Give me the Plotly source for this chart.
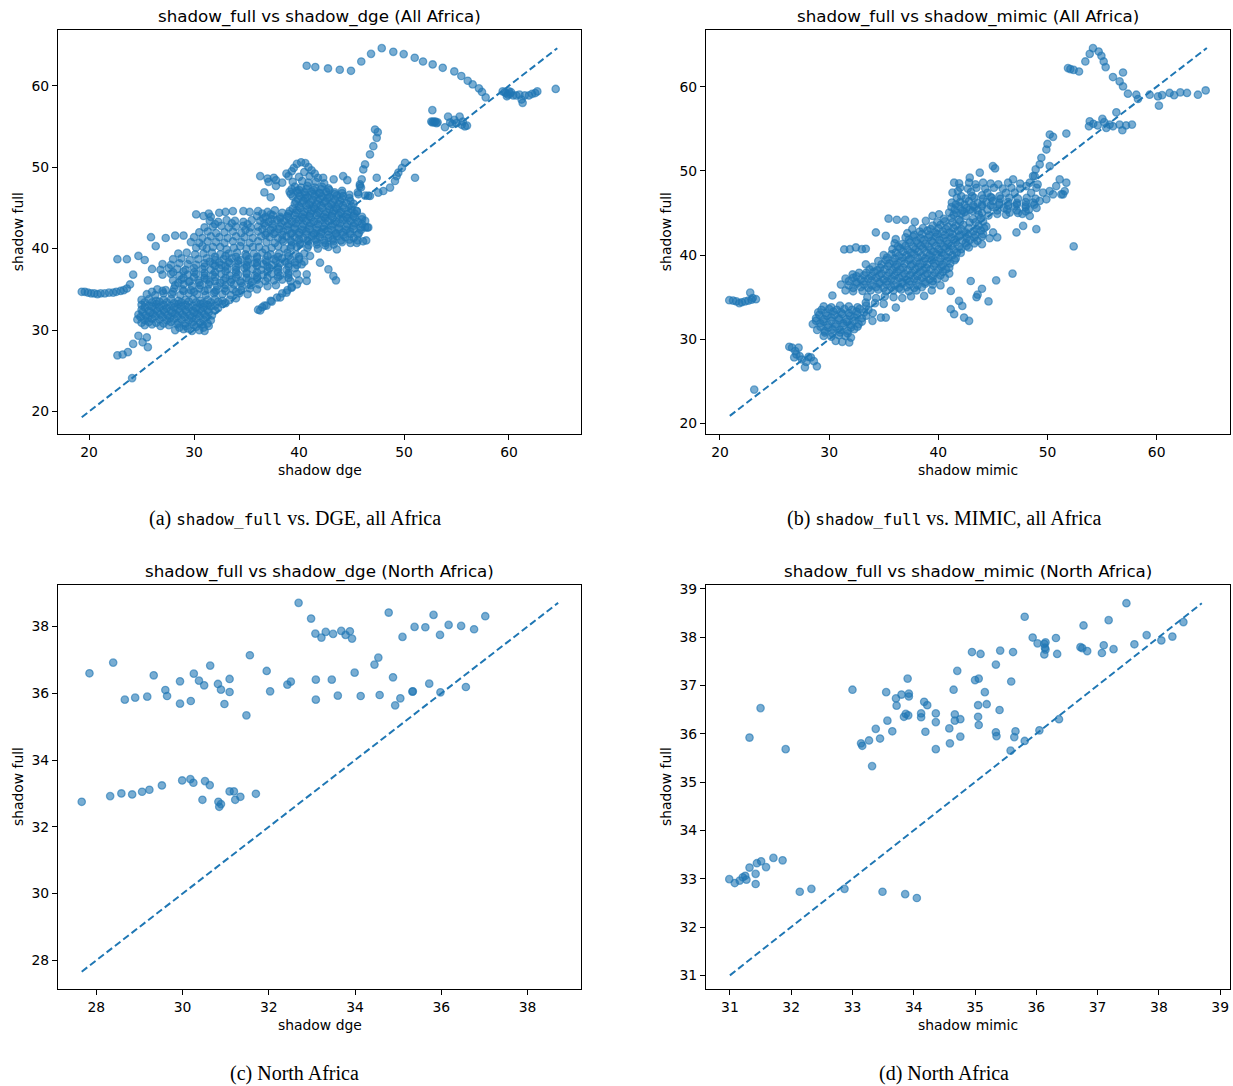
import plotly.graph_objects as go

W, H = 1233, 1086
BLUE = '#1f77b4'
FILL = 'rgba(31,119,180,0.6)'

# ---------------- (a) shadow_full vs shadow_dge, all Africa ----------------
a_arc = [(40.73,62.45),(41.55,62.29),(42.76,62.12),(43.88,61.96),(44.95,61.83),(45.93,62.97),
         (46.86,63.91),(47.88,64.61),(48.98,64.16),(49.97,63.88),(51.02,63.43),(51.81,62.97),
         (52.73,62.61),(53.69,62.2),(54.79,61.75),(55.46,61.19),(56.07,60.61),(56.54,60.16),
         (57.14,59.67),(57.43,59.23),(57.78,58.57)]
a_right = [(59.4,59.3),(59.6,59.2),(59.7,59.1),(59.9,58.9),(60.1,59.0),(60.4,58.8),(60.7,58.8),
           (61.0,58.9),(61.2,58.3),(61.3,57.9),(61.5,58.8),(61.9,58.8),(62.2,59.0),(62.5,59.1),
           (62.7,59.3),(64.45,59.6),(60.0,59.3),(60.2,59.2),(59.8,58.7)]
a_upper = [(52.7,57.0),(52.6,55.6),(52.7,55.5),(52.8,55.6),(52.9,55.5),(53.0,55.6),(53.1,55.4),
           (53.2,55.5),(53.9,54.9),(54.2,56.2),(54.4,55.5),(54.6,55.3),(54.8,55.8),(55.0,55.4),
           (55.3,56.2),(55.5,55.2),(55.8,55.0),(56.0,55.1),(55.6,55.6)]
a_strands = [(45.65,46.67),(45.8,47.68),(45.97,48.5),(46.12,49.72),(46.29,50.34),(46.76,51.56),
             (47.08,52.57),(47.4,53.6),(47.24,54.62),(47.5,54.3),(47.4,48.7),(46.76,46.46),
             (47.55,46.87),(48.03,47.07),(48.67,47.49),(49.14,48.3),(49.46,49.32),(49.8,49.9),
             (50.1,50.54),(51.05,48.7),(49.3,48.9),(46.3,46.5),(46.6,46.5),(46.3,42.6),(46.6,42.6),
             (46.4,41.0),(45.5,44.6),(44.9,45.85),(44.2,46.46)]
a_tail = [(19.3,34.7),(19.6,34.7),(19.9,34.6),(20.2,34.5),(20.5,34.5),(20.8,34.4),(21.1,34.5),
          (21.5,34.5),(21.9,34.6),(22.3,34.6),(22.6,34.7),(23.0,34.8),(23.3,34.9),(23.6,35.1)]
a_cloud = [
 (39.8,50.4),(40.2,50.6),(40.6,50.5),(39.5,49.9),(40.9,50.0),(41.2,49.6),(38.8,49.2),(39.3,49.5),
 (41.5,49.2),(40.5,49.4),(36.3,48.9),(37.0,48.6),(37.6,48.7),(39.0,48.9),(40.0,48.8),(41.0,48.9),
 (41.8,48.7),(42.3,48.7),(43.3,48.5),(44.2,48.9),(44.6,48.4),(37.1,48.2),(37.8,48.4),(38.4,48.1),
 (39.4,48.2),(40.3,48.3),(40.9,48.1),(41.6,48.2),(42.4,48.0),(45.8,47.9),(37.8,47.7),(39.6,47.6),
 (40.2,47.5),(40.8,47.7),(41.5,47.5),(42.2,47.6),(42.8,47.4),(45.9,47.5),(36.7,46.9),(37.3,46.3),
 (39.1,47.0),(39.8,47.1),(40.5,46.9),(41.2,47.0),(41.9,46.8),(42.6,47.0),(43.4,46.9),(44.1,47.1),
 (45.6,46.9),(39.4,46.4),(40.1,46.5),(40.8,46.3),(41.5,46.5),(42.2,46.4),(42.9,46.3),(43.6,46.5),
 (39.7,45.8),(40.4,45.9),(41.1,45.7),(41.8,45.9),(42.5,45.8),(43.2,45.7),(43.9,45.9),(40.0,45.2),
 (40.7,45.3),(41.4,45.1),(42.1,45.3),(42.8,45.2),(43.5,45.1),(44.2,45.3),(45.0,45.2),
 (30.2,44.2),(30.9,44.0),(31.4,44.3),(32.4,44.4),(33.0,44.5),(33.7,44.6),(34.7,44.6),(35.3,44.5),
 (36.1,44.6),(37.0,44.5),(37.7,44.7),(38.4,44.4),(39.1,44.6),(39.8,44.7),(40.5,44.5),(41.2,44.7),
 (41.9,44.6),(42.6,44.5),(43.3,44.7),(44.0,44.5),(44.7,44.6),(45.5,44.6),
 (31.6,43.9),(36.0,44.0),(36.8,43.9),(37.5,44.1),(38.2,43.9),(38.9,44.0),(39.6,44.1),(40.3,43.9),
 (41.0,44.0),(41.7,44.1),(42.4,43.9),(43.1,44.0),(43.8,44.1),(44.5,43.9),(45.2,44.0),(46.0,43.9),
 (31.5,43.4),(32.3,43.3),(33.1,43.5),(33.9,43.4),(34.7,43.3),(35.5,43.5),(36.3,43.4),(37.1,43.3),
 (37.9,43.5),(38.6,43.4),(39.3,43.3),(40.0,43.5),(40.7,43.4),(41.4,43.3),(42.1,43.5),(42.8,43.4),
 (43.5,43.3),(44.2,43.5),(44.9,43.4),(45.6,43.3),(46.3,43.4),
 (31.0,42.6),(31.8,42.7),(32.6,42.8),(33.3,42.6),(34.0,42.7),(34.7,42.8),(35.4,42.6),(36.1,42.7),
 (36.8,42.8),(37.5,42.6),(38.2,42.7),(38.9,42.8),(39.6,42.6),(40.3,42.7),(41.0,42.8),(41.7,42.6),
 (42.4,42.7),(43.1,42.8),(43.8,42.6),(44.5,42.7),(45.2,42.8),(45.9,42.6),(46.5,42.6),
 (30.5,42.0),(31.3,42.1),(32.1,41.9),(32.9,42.0),(33.7,42.1),(34.5,41.9),(35.3,42.0),(36.1,42.1),
 (36.9,41.9),(37.7,42.0),(38.5,42.1),(39.3,41.9),(40.0,42.0),(40.7,42.1),(41.4,41.9),(42.1,42.0),
 (42.8,42.1),(43.5,41.9),(44.2,42.0),(44.9,42.1),(45.7,41.9),
 (25.9,41.4),(27.3,41.3),(28.2,41.6),(29.0,41.6),(30.0,41.4),(30.8,41.3),(31.6,41.5),(32.4,41.4),
 (33.2,41.3),(34.0,41.5),(34.8,41.4),(35.6,41.3),(36.4,41.5),(37.2,41.4),(38.0,41.3),(38.8,41.5),
 (39.6,41.4),(40.4,41.3),(41.2,41.5),(42.0,41.4),(42.8,41.3),(43.6,41.5),(44.4,41.4),(45.2,41.3),
 (26.35,40.3),(29.7,40.8),(30.5,40.7),(31.3,40.9),(32.1,40.8),(32.9,40.7),(33.7,40.9),(34.5,40.8),
 (35.3,40.7),(36.1,40.9),(36.9,40.8),(37.7,40.7),(38.5,40.9),(39.3,40.8),(40.1,40.7),(40.9,40.9),
 (41.7,40.8),(42.5,40.7),(43.3,40.9),(44.1,40.8),(44.9,40.7),(45.5,40.7),(46.1,40.9),
 (30.2,40.1),(31.2,40.0),(32.5,40.2),(33.8,40.1),(35.0,40.0),(36.2,40.2),(37.4,40.1),(38.6,40.0),
 (39.8,40.2),(40.8,40.1),(41.8,40.0),(42.8,40.2),(43.6,39.9),
 (30.8,40.3),(31.8,40.2),(33.1,39.9),(34.4,40.3),(35.6,40.2),(36.8,39.9),(38.0,40.3),(39.2,40.1),
 (28.5,39.4),(29.3,39.5),(30.1,39.3),(30.9,39.4),(31.7,39.5),(32.5,39.3),(33.3,39.4),(34.1,39.5),
 (34.9,39.3),(35.7,39.4),(36.5,39.5),(37.3,39.3),(38.1,39.4),(38.9,39.5),(39.7,39.3),(40.5,39.4),
 (41.05,39.1),(22.7,38.7),(23.6,38.7),(24.7,39.1),(25.3,38.6),(28.0,38.7),(28.8,38.8),(29.6,38.6),
 (30.4,38.7),(31.2,38.8),(32.0,38.6),(32.8,38.7),(33.6,38.8),(34.4,38.6),(35.2,38.7),(36.0,38.8),
 (36.8,38.6),(37.6,38.7),(38.4,38.8),(39.2,38.6),(40.0,38.7),(40.5,38.4),
 (27.0,38.1),(27.8,38.0),(28.6,38.2),(29.4,38.1),(30.2,38.0),(31.0,38.2),(31.8,38.1),(32.6,38.0),
 (33.4,38.2),(34.2,38.1),(35.0,38.0),(35.8,38.2),(36.6,38.1),(37.4,38.0),(38.2,38.2),(39.0,38.1),
 (39.8,38.0),(40.25,38.06),(42.0,38.27),
 (26.0,37.5),(26.8,37.4),(27.6,37.6),(28.4,37.5),(29.2,37.4),(30.0,37.6),(30.8,37.5),(31.6,37.4),
 (32.4,37.6),(33.2,37.5),(34.0,37.4),(34.8,37.6),(35.6,37.5),(36.4,37.4),(37.2,37.6),(38.0,37.5),
 (38.8,37.4),(39.6,37.6),(42.8,37.46),
 (24.2,36.8),(27.0,36.8),(27.8,36.9),(28.6,36.7),(29.4,36.8),(30.2,36.9),(31.0,36.7),(31.8,36.8),
 (32.6,36.9),(33.4,36.7),(34.2,36.8),(35.0,36.9),(35.8,36.7),(36.6,36.8),(37.4,36.9),(38.2,36.7),
 (39.0,36.8),(39.8,36.9),(40.73,36.84),(43.27,36.63),
 (25.6,36.1),(28.0,36.1),(28.8,36.2),(29.6,36.0),(30.4,36.1),(31.2,36.2),(32.0,36.0),(32.8,36.1),
 (33.6,36.2),(34.4,36.0),(35.2,36.1),(36.0,36.2),(36.8,36.0),(37.6,36.1),(38.4,36.2),(39.2,36.0),
 (40.0,36.1),(40.73,36.03),(43.52,36.1),
 (23.9,35.6),(28.2,35.5),(29.0,35.6),(29.8,35.4),(30.6,35.5),(31.4,35.6),(32.2,35.4),(33.0,35.5),
 (33.8,35.6),(34.6,35.4),(35.4,35.5),(36.2,35.6),(37.0,35.4),(37.8,35.5),(39.8,35.6),
 (26.5,35.0),(27.3,34.9),(28.1,35.1),(28.9,35.0),(29.7,34.9),(30.5,35.1),(31.3,35.0),(32.1,34.9),
 (32.9,35.1),(33.7,35.0),(34.5,34.9),(35.3,35.1),(36.0,35.0),(39.3,35.2),
 (25.5,34.4),(26.3,34.3),(27.1,34.5),(27.9,34.4),(28.7,34.3),(29.5,34.5),(30.3,34.4),(31.1,34.3),
 (31.9,34.5),(32.7,34.4),(33.5,34.3),(34.3,34.5),(35.1,34.4),(38.8,34.6),
 (25.0,33.7),(25.7,33.8),(26.4,33.6),(27.1,33.7),(27.8,33.8),(28.5,33.6),(29.2,33.7),(29.9,33.8),
 (30.6,33.6),(31.3,33.7),(32.0,33.8),(32.7,33.6),(33.4,33.7),(34.0,33.9),(38.2,34.0),
 (25.0,33.1),(25.7,33.0),(26.4,33.2),(27.1,33.1),(27.8,33.0),(28.5,33.2),(29.2,33.1),(29.9,33.0),
 (30.6,33.2),(31.3,33.1),(32.0,33.0),(32.7,33.2),(37.4,33.5),(36.9,33.0),
 (25.0,32.5),(25.7,32.4),(26.4,32.6),(27.1,32.5),(27.8,32.4),(28.5,32.6),(29.2,32.5),(29.9,32.4),
 (30.6,32.6),(31.3,32.5),(32.0,32.4),(36.1,32.5),(36.5,32.8),
 (24.7,31.9),(25.4,31.8),(26.1,32.0),(26.8,31.9),(27.5,31.8),(28.2,32.0),(28.9,31.9),(29.6,31.8),
 (30.3,32.0),(31.0,31.9),(31.7,31.8),
 (24.6,31.3),(25.3,31.2),(26.0,31.4),(26.7,31.3),(27.4,31.2),(28.1,31.4),(28.8,31.3),(29.5,31.2),
 (30.2,31.4),(30.9,31.3),(31.6,31.2),
 (25.3,30.6),(26.0,30.7),(26.8,30.5),(27.6,30.6),(28.4,30.7),(29.2,30.5),(30.0,30.6),(30.8,30.7),
 (31.4,30.5),(28.2,30.0),(29.0,30.1),(29.8,29.9),(30.5,30.0),(31.0,29.9),
 (24.7,29.3),(25.5,29.1),(24.2,28.3),(25.1,28.5),(25.6,27.9),(23.7,27.3),(22.7,26.9),(23.2,27.0),
 (24.1,24.1),(36.3,32.4),(36.7,33.0),(37.3,33.6),(37.9,34.0),(38.4,34.5),(38.9,34.9),(39.3,35.3)]
# extra points read in the solid-looking parts of the cloud
a_dense = [
 (25.3,33.4),(26.0,33.4),(26.7,33.5),(27.4,33.4),(28.1,33.3),(28.8,33.4),(29.5,33.5),(30.2,33.4),
 (30.9,33.3),(31.6,33.4),(32.3,33.5),(33.0,33.3),(25.3,32.8),(26.0,32.9),(26.7,32.8),(27.4,32.7),
 (28.1,32.8),(28.8,32.9),(29.5,32.8),(30.2,32.7),(30.9,32.8),(31.6,32.9),(32.3,32.7),
 (25.1,32.2),(25.8,32.1),(26.5,32.3),(27.2,32.2),(27.9,32.1),(28.6,32.3),(29.3,32.2),(30.0,32.1),
 (30.7,32.3),(31.4,32.2),(24.9,31.6),(25.6,31.5),(26.3,31.7),(27.0,31.6),(27.7,31.5),(28.4,31.7),
 (29.1,31.6),(29.8,31.5),(30.5,31.7),(31.2,31.6),(25.0,30.9),(25.7,31.0),(26.4,30.9),(27.1,30.8),
 (27.8,31.0),(28.5,30.9),(29.2,30.8),(29.9,31.0),(30.6,30.9),(31.3,30.8),(28.6,30.3),(29.4,30.2),
 (30.2,30.4),(30.9,30.3),
 (39.3,47.3),(40.0,47.2),(40.7,47.3),(41.4,47.2),(42.1,47.3),(42.9,47.2),
 (39.2,46.7),(39.9,46.8),(40.6,46.6),(41.3,46.7),(42.0,46.8),(42.7,46.6),(43.4,46.7),(44.1,46.8),
 (44.8,46.6),(39.9,46.1),(40.6,46.2),(41.3,46.0),(42.0,46.1),(42.7,46.2),(43.4,46.0),(44.1,46.1),
 (44.8,46.2),(39.6,45.5),(40.3,45.6),(41.0,45.4),(41.7,45.5),(42.4,45.6),(43.1,45.4),(43.8,45.5),
 (44.5,45.6),(45.2,45.5),(39.4,44.9),(40.1,45.0),(40.8,44.8),(41.5,44.9),(42.2,45.0),(42.9,44.8),
 (43.6,44.9),(44.3,45.0),(45.0,44.8),(36.5,44.3),(37.3,44.2),(39.0,44.3),(39.7,44.4),(40.4,44.2),
 (41.1,44.3),(41.8,44.4),(42.5,44.2),(43.2,44.3),(43.9,44.4),(44.6,44.2),(45.3,44.3),
 (36.6,43.7),(37.4,43.6),(38.2,43.7),(39.0,43.8),(39.7,43.6),(40.4,43.7),(41.1,43.8),(41.8,43.6),
 (42.5,43.7),(43.2,43.8),(43.9,43.6),(44.6,43.7),(45.3,43.8),(46.0,43.6),
 (32.0,43.0),(33.6,43.1),(35.1,43.0),(36.7,43.1),(37.5,43.0),(38.3,43.1),(39.0,43.0),(39.7,43.1),
 (40.4,43.0),(41.1,43.1),(41.8,43.0),(42.5,43.1),(43.2,43.0),(43.9,43.1),(44.6,43.0),(45.3,43.1),
 (46.0,43.0),(34.9,42.3),(36.5,42.4),(37.3,42.3),(38.1,42.4),(38.9,42.3),(39.6,42.4),(40.3,42.3),
 (41.0,42.4),(41.7,42.3),(42.4,42.4),(43.1,42.3),(43.8,42.4),(44.5,42.3),(45.2,42.4),(45.9,42.3),
 (36.8,41.7),(37.6,41.8),(38.4,41.7),(39.2,41.8),(40.0,41.7),(40.7,41.8),(41.4,41.7),(42.1,41.8),
 (42.8,41.7),(43.5,41.8),(44.2,41.7),(44.9,41.8),(45.6,41.7),(38.4,41.1),(39.2,41.0),(40.0,41.1),
 (40.8,41.0),(41.6,41.1),(42.4,41.0),(43.2,41.1),(44.0,41.0),(44.8,41.1),(45.6,41.0),
 (39.3,40.4),(40.1,40.5),(40.9,40.4),(41.7,40.5),(42.5,40.4),(43.3,40.5),
 (32.0,39.0),(33.0,39.1),(34.0,39.0),(35.0,39.1),(36.0,39.0),(37.0,39.1),(38.0,39.0),(39.0,39.1),
 (40.0,39.0),(31.5,38.4),(32.4,38.3),(33.3,38.4),(34.2,38.5),(35.1,38.4),(36.0,38.3),(36.9,38.4),
 (37.8,38.5),(38.7,38.4),(39.6,38.3),(31.0,37.8),(32.0,37.9),(33.0,37.8),(34.0,37.7),(35.0,37.8),
 (36.0,37.9),(37.0,37.8),(38.0,37.7),(39.0,37.8),(28.0,37.1),(29.0,37.2),(30.0,37.1),(31.0,37.0),
 (32.0,37.1),(33.0,37.2),(34.0,37.1),(35.0,37.0),(36.0,37.1),(37.0,37.2),(38.0,37.1),(39.0,37.0),
 (29.0,36.4),(30.0,36.5),(31.0,36.4),(32.0,36.5),(33.0,36.4),(34.0,36.5),(35.0,36.4),(36.0,36.5),
 (37.0,36.4),(38.0,36.5),(39.0,36.4),(28.5,35.8),(29.5,35.9),(30.5,35.8),(31.5,35.9),(32.5,35.8),
 (33.5,35.9),(34.5,35.8),(35.5,35.9),(26.0,34.7),(27.0,34.8),(28.0,34.7),(29.0,34.8),(30.0,34.7),
 (31.0,34.8),(32.0,34.7),(33.0,34.8),(34.0,34.7)]

# ---------------- (b) shadow_full vs shadow_mimic, all Africa ----------------
b_top = [(51.88,62.21),(52.1,62.1),(52.4,62.0),(52.89,61.81),(53.47,63.0),(53.87,63.9),(54.17,64.58),
         (54.69,64.18),(54.94,63.67),(55.15,63.0),(55.33,62.33),(56.0,61.15),(56.92,61.69),
         (56.61,60.63),(56.92,60.04),(57.37,59.17),(58.14,59.05),(58.29,58.54),(59.36,59.05),
         (60.12,58.85),(60.21,57.75),(60.5,59.0),(61.19,59.26),(61.6,59.0),(62.17,59.33),
         (62.78,59.26),(63.78,59.05),(64.49,59.56)]
b_upper = [(53.87,55.89),(53.8,55.3),(54.2,55.6),(54.6,55.4),(55.03,56.18),(55.39,55.11),(55.7,55.5),
           (56.0,55.3),(56.31,56.96),(56.61,55.5),(56.86,54.83),(57.2,55.4),(57.74,55.5),(55.2,55.8)]
b_tail = [(20.85,34.64),(21.2,34.6),(21.5,34.5),(21.77,34.3),(22.0,34.4),(22.3,34.5),(22.6,34.6),
          (22.9,34.7),(22.77,35.54),(23.3,34.76),(23.0,34.9),(23.14,24.02)]
b_low = [(26.35,29.11),(26.6,29.0),(26.8,27.85),(27.0,28.2),(27.3,28.0),(27.5,27.6),(27.78,26.67),
         (27.9,27.3),(28.1,27.9),(28.33,27.85),(28.6,27.4),(28.88,26.79),(26.9,28.6),(27.2,29.0),
         (29.5,33.9),(30.2,33.8),(31.0,34.0),(31.8,33.9),(32.6,33.8),(33.4,34.0),
         (29.0,33.2),(29.7,33.1),(30.4,33.3),(31.1,33.2),(31.8,33.1),(32.5,33.3),(33.2,33.2),(34.0,33.1),
         (28.8,32.5),(29.5,32.4),(30.2,32.6),(30.9,32.5),(31.6,32.4),(32.3,32.6),(33.0,32.5),
         (33.97,32.19),(34.74,32.58),(35.19,32.58),
         (28.5,31.8),(29.2,31.9),(29.9,31.7),(30.6,31.8),(31.3,31.9),(32.0,31.7),(32.7,31.8),
         (28.9,31.1),(29.6,31.0),(30.3,31.2),(31.0,31.1),(31.7,31.0),(32.3,31.2),
         (29.5,30.4),(30.2,30.3),(30.9,30.5),(31.5,30.4),(32.0,30.2),(30.6,29.8),(31.2,29.7),(31.84,29.62),
         (29.3,33.5),(30.0,33.6),(30.7,33.5),(31.4,33.6),(32.1,33.5),(32.8,33.6),(33.6,33.5),
         (29.1,32.9),(29.8,32.8),(30.5,32.9),(31.2,33.0),(31.9,32.8),(32.6,32.9),(33.4,32.8),
         (28.8,32.2),(29.5,32.1),(30.2,32.2),(30.9,32.3),(31.6,32.1),(32.3,32.2),(33.0,32.1),
         (29.2,31.5),(29.9,31.4),(30.6,31.5),(31.3,31.6),(32.0,31.4),(32.6,31.5),
         (29.6,30.8),(30.3,30.7),(31.0,30.8),(31.7,30.7)]
b_cloud = [
 (31.08,36.5),(31.8,36.4),(32.5,36.6),(33.2,36.5),(33.9,36.4),(34.6,36.6),(35.3,36.5),(36.0,36.4),
 (36.7,36.6),(37.4,36.5),(38.1,36.4),(38.8,36.6),(39.5,36.5),(40.2,36.4),
 (30.3,35.2),(31.5,35.8),(32.2,35.7),(33.06,35.74),(33.8,35.8),(34.5,35.9),(35.2,35.7),(35.9,35.8),
 (36.6,35.9),(37.3,35.7),(38.0,35.8),(38.7,35.15),(39.4,35.8),(41.14,35.74),
 (33.5,35.0),(34.3,34.9),(35.1,35.1),(35.9,35.0),(36.7,34.9),(37.5,35.1),
 (33.36,34.36),(34.2,34.3),(35.0,34.2),(36.11,33.77),
 (31.5,37.2),(32.2,37.3),(32.9,37.1),(33.6,37.2),(34.3,37.3),(35.0,37.1),(35.7,37.2),(36.4,37.3),
 (37.1,37.1),(37.8,37.2),(38.5,37.3),(39.2,37.1),(39.9,37.2),(40.6,37.3),
 (32.15,37.7),(32.75,37.9),(33.4,37.9),(34.1,38.0),(34.8,37.8),(35.5,37.9),(36.2,38.0),(36.9,37.8),
 (37.6,37.9),(38.3,38.0),(39.0,37.8),(39.7,37.9),(40.4,38.0),(41.0,37.8),
 (33.36,38.9),(34.0,38.6),(34.7,38.5),(35.4,38.7),(36.1,38.6),(36.8,38.5),(37.5,38.7),(38.2,38.6),
 (38.9,38.5),(39.6,38.7),(40.3,38.6),(41.0,38.5),
 (34.5,39.3),(35.2,39.4),(35.9,39.2),(36.6,39.3),(37.3,39.4),(38.0,39.2),(38.7,39.3),(39.4,39.4),
 (40.1,39.2),(40.8,39.3),(41.5,39.4),
 (35.0,40.0),(35.7,40.1),(36.4,39.9),(37.1,40.0),(37.8,40.1),(38.5,39.9),(39.2,40.0),(39.9,40.1),
 (40.6,39.9),(41.3,40.0),(42.06,40.27),
 (31.38,40.67),(31.9,40.7),(32.45,40.91),(33.0,40.7),(33.36,40.75),(35.8,40.7),(36.5,40.8),
 (37.2,40.6),(37.9,40.7),(38.6,40.8),(39.3,40.6),(40.0,40.7),(40.7,40.8),(41.4,40.6),(42.1,40.7),
 (42.8,40.9),
 (36.0,41.4),(36.7,41.3),(37.4,41.5),(38.1,41.4),(38.8,41.3),(39.5,41.5),(40.2,41.4),(40.9,41.3),
 (41.6,41.5),(42.52,41.46),(43.3,41.4),(44.0,41.3),
 (35.19,42.29),(36.1,41.89),(37.0,42.1),(37.7,42.2),(38.4,42.0),(39.1,42.1),(39.8,42.2),(40.5,42.0),
 (41.2,42.1),(41.9,42.2),(42.6,42.0),(43.3,42.1),(44.0,42.2),(44.7,42.0),(45.4,42.1),
 (34.28,42.69),(37.16,42.6),(37.62,43.08),(38.3,42.8),(39.0,42.9),(39.7,42.7),(40.4,42.8),
 (41.05,42.69),(41.8,42.9),(42.5,42.7),(43.2,42.8),(43.9,42.9),(45.02,42.69),(47.16,42.69),
 (38.86,44.07),(39.5,43.5),(40.2,43.6),(40.9,43.4),(41.6,43.5),(42.3,43.6),(42.88,43.87),(43.7,43.5),
 (44.4,43.4),(47.77,43.47),(48.98,43.08),
 (35.44,44.34),(36.2,44.2),(36.96,44.18),(37.85,43.94),(39.47,44.65),(40.07,44.85),(40.5,44.3),
 (41.2,44.4),(41.9,44.2),(42.52,44.65),(43.2,44.3),(43.9,44.4),(48.38,44.65),
 (40.99,45.05),(41.7,45.0),(43.13,45.24),(42.4,45.1),(44.0,45.0),(46.54,45.05),(47.3,45.0),(48.0,45.2),
 (41.2,45.7),(41.9,45.8),(42.6,45.6),(43.3,45.7),(44.0,45.8),(45.0,45.7),(46.0,45.6),(47.0,45.8),
 (48.0,45.7),(49.0,45.6),
 (41.24,46.24),(42.0,46.3),(42.8,46.4),(43.6,46.2),(44.4,46.3),(45.0,46.43),(45.6,46.24),(46.4,46.3),
 (47.2,46.2),(48.0,46.3),(48.68,46.24),(49.29,46.43),
 (41.3,47.42),(42.1,47.0),(43.1,47.0),(44.0,47.1),(44.8,46.9),(45.6,47.0),(47.0,47.42),(49.6,47.42),
 (50.2,47.6),(51.27,47.22),(51.58,47.6),
 (41.45,48.6),(41.91,48.52),(42.82,48.6),(43.4,48.4),(44.1,48.6),(44.8,48.5),(45.5,48.4),
 (46.39,48.6),(46.85,48.99),(47.5,48.5),(48.07,48.2),(48.83,49.39),(48.99,48.0),(49.1,48.4),
 (50.8,48.2),(42.88,49.2),(43.8,49.79),(45.0,50.57),(45.2,50.3),(50.21,50.57),(49.29,50.77),
 (48.38,48.6),(48.68,49.39),(48.92,50.18),(49.44,51.56),(49.9,52.54),(50.0,53.2),(50.21,54.32),
 (50.51,54.05),(51.73,54.44),(51.12,49.0),(51.73,48.6),(51.42,47.22),(50.51,47.22),(49.9,46.63),
 (52.4,41.03),(41.14,33.57),(41.9,34.56),(42.2,33.96),(41.45,32.98),(42.36,32.58),(42.82,32.19),
 (42.97,36.92),(43.5,35.0),(44.6,34.5),(45.3,37.0),(46.8,37.8),(44.0,36.0),(43.6,35.3)]
b_dense = [
 (31.8,36.9),(32.5,36.8),(33.2,36.9),(33.9,37.0),(34.6,36.8),(35.3,36.9),(36.0,37.0),(36.7,36.8),
 (37.4,36.9),(38.1,37.0),(38.8,36.8),(39.5,36.9),(32.2,36.1),(32.9,36.2),(33.6,36.1),(34.3,36.2),
 (35.0,36.1),(35.7,36.2),(36.4,36.1),(37.1,36.2),(37.8,36.1),(38.5,36.2),
 (32.5,37.5),(33.2,37.6),(33.9,37.5),(34.6,37.6),(35.3,37.5),(36.0,37.6),(36.7,37.5),(37.4,37.6),
 (38.1,37.5),(38.8,37.6),(39.5,37.5),(40.2,37.6),(33.7,38.3),(34.4,38.2),(35.1,38.3),(35.8,38.2),
 (36.5,38.3),(37.2,38.2),(37.9,38.3),(38.6,38.2),(39.3,38.3),(40.0,38.2),(40.7,38.3),
 (34.8,38.9),(35.5,39.0),(36.2,38.9),(36.9,39.0),(37.6,38.9),(38.3,39.0),(39.0,38.9),(39.7,39.0),
 (40.4,38.9),(41.1,39.0),(35.3,39.7),(36.0,39.6),(36.7,39.7),(37.4,39.6),(38.1,39.7),(38.8,39.6),
 (39.5,39.7),(40.2,39.6),(40.9,39.7),(41.6,39.6),(36.1,40.3),(36.8,40.4),(37.5,40.3),(38.2,40.4),
 (38.9,40.3),(39.6,40.4),(40.3,40.3),(41.0,40.4),(41.7,40.3),(36.3,41.0),(37.0,41.1),(37.7,41.0),
 (38.4,41.1),(39.1,41.0),(39.8,41.1),(40.5,41.0),(41.2,41.1),(41.9,41.0),(42.6,41.1),
 (37.3,41.8),(38.0,41.7),(38.7,41.8),(39.4,41.7),(40.1,41.8),(40.8,41.7),(41.5,41.8),(42.2,41.7),
 (42.9,41.8),(43.6,41.7),(37.8,42.4),(38.5,42.5),(39.2,42.4),(39.9,42.5),(40.6,42.4),(41.3,42.5),
 (42.0,42.4),(42.7,42.5),(43.4,42.4),(44.1,42.5),(38.6,43.2),(39.3,43.1),(40.0,43.2),(40.7,43.1),
 (41.4,43.2),(42.1,43.1),(42.8,43.2),(43.5,43.1),(44.2,43.2),(39.9,43.9),(40.6,44.0),(41.3,43.9),
 (42.0,44.0),(43.4,43.9),(44.1,44.0),
 (41.4,44.8),(42.1,44.9),(43.7,44.8),(44.6,44.7),(45.4,44.9),(46.2,44.8),(47.7,44.9),
 (41.5,45.4),(42.2,45.3),(42.9,45.4),(43.6,45.3),(44.5,45.4),(45.4,45.3),(46.3,45.4),(47.2,45.3),
 (48.3,45.4),(41.6,46.0),(42.4,46.0),(43.2,45.9),(44.0,46.0),(44.8,45.9),(45.6,46.0),(46.4,45.9),
 (47.2,46.0),(48.0,45.9),(48.8,46.0),(41.7,46.8),(42.5,46.7),(43.3,46.8),(44.1,46.7),(44.9,46.8),
 (45.7,46.7),(46.5,46.8),(47.3,46.7),(48.1,46.8),(48.9,46.7),(42.0,48.0),(42.7,47.9),(43.5,48.0),
 (44.3,47.9),(45.1,48.0),(45.9,47.9),(46.7,48.0),(47.5,47.9),(41.8,47.6),(43.0,47.5),(44.5,47.4),
 (46.2,47.4),(48.5,47.4)]

# ---------------- (c) North Africa, DGE ----------------
c_upper = [(27.84,36.6),(28.39,36.92),(28.66,35.81),(28.9,35.87),(29.18,35.9),(29.33,36.54),(29.6,36.1),
           (29.64,35.92),(29.94,36.36),(29.94,35.69),(30.19,35.77),(30.26,36.59),(30.38,36.38),
           (30.5,36.24),(30.64,36.83),(30.82,36.28),(30.89,36.11),(31.09,36.43),(31.09,36.04),
           (30.97,35.68),(31.48,35.34),(31.56,37.14),(31.95,36.67),(32.03,36.06),(32.43,36.26),
           (32.51,36.35),(33.09,36.41),(33.09,35.81),(33.46,36.41),(33.6,35.93),(33.99,36.62),
           (34.13,35.92),(34.45,36.86),(34.54,37.07),(34.57,35.95),(34.88,36.48),(34.93,35.64),
           (35.05,35.85),(35.33,36.05),(35.34,36.06),(35.72,36.29),(35.98,36.03),(36.57,36.19)]
c_top = [(32.69,38.71),(32.98,38.24),(33.08,37.79),(33.22,37.67),(33.32,37.84),(33.49,37.78),
         (33.68,37.87),(33.78,37.75),(33.88,37.86),(33.93,37.64),(34.78,38.42),(35.1,37.69),
         (35.38,37.99),(35.63,37.98),(35.82,38.35),(35.97,37.75),(36.17,38.05),(36.46,38.02),
         (36.76,37.92),(37.02,38.31)]
c_low = [(27.66,32.75),(28.32,32.92),(28.58,33.0),(28.83,32.97),(29.06,33.05),(29.23,33.11),
         (29.52,33.24),(29.99,33.39),(30.18,33.43),(30.25,33.32),(30.52,33.37),(30.63,33.25),
         (30.46,32.81),(30.83,32.75),(30.89,32.68),(30.85,32.6),(31.09,33.06),(31.19,33.06),
         (31.22,32.81),(31.34,32.9),(31.7,32.99)]

# ---------------- (d) North Africa, MIMIC ----------------
d_low = [(30.99,32.99),(31.08,32.91),(31.16,32.96),(31.21,33.03),(31.25,33.06),(31.27,32.98),
         (31.32,33.23),(31.42,33.10),(31.42,32.89),(31.44,33.32),(31.51,33.36),(31.59,33.24),
         (31.71,33.43),(31.86,33.38),(32.14,32.73),(32.33,32.79),(32.87,32.79),(33.49,32.73),
         (33.86,32.68),(34.05,32.6)]
d_mid = [(31.32,35.92),(31.5,36.53),(31.91,35.68),(33.0,36.91),(33.14,35.8),(33.16,35.75),(33.27,35.86),
         (33.32,35.33),(33.38,36.1),(33.45,35.9),(33.57,36.27),(33.65,36.05),(33.55,36.86),
         (33.71,36.73),(33.72,36.58),(33.8,36.81),(33.9,37.14),(33.92,36.83),(33.92,36.77),
         (33.84,36.35),(33.87,36.41),(33.91,36.38),(34.12,36.42),(34.12,36.34),(34.17,36.66),
         (34.22,36.59),(34.19,36.04),(34.36,36.42),(34.36,36.24),(34.36,35.68),(34.59,35.8),
         (34.58,36.11),(34.65,36.91),(34.71,37.3),(34.67,36.4),(34.67,36.27),(34.76,36.3),
         (34.76,35.94),(34.95,37.69),(35.09,37.65),(35.0,37.11),(35.06,37.14),(35.16,36.86),
         (35.05,36.59),(35.19,36.61),(35.05,36.35),(35.06,36.18),(35.4,36.49),(35.34,37.43),
         (35.41,37.72),(35.59,37.08),(35.62,37.69),(35.34,36.03),(35.35,35.95),(35.64,35.93),
         (35.66,36.05),(35.81,35.85),(35.58,35.65),(36.05,36.07),(36.37,36.3)]
d_top = [(35.81,38.42),(35.94,37.99),(36.02,37.87),(36.13,37.86),(36.15,37.89),(36.14,37.78),
         (36.15,37.74),(36.13,37.64),(36.32,37.98),(36.34,37.65),(36.72,37.79),(36.75,37.77),
         (36.83,37.71),(36.77,38.24),(37.07,37.67),(37.1,37.83),(37.26,37.75),(37.18,38.35),
         (37.47,38.7),(37.6,37.85),(37.8,38.04),(38.04,37.93),(38.22,38.01),(38.4,38.31)]

# diagonal reference ranges (min, max of data)
a_diag = [19.3, 64.6]
b_diag = [20.9, 64.6]
c_diag = [27.66, 38.71]
d_diag = [31.0, 38.7]

titles = ["shadow_full vs shadow_dge (All Africa)", "shadow_full vs shadow_mimic (All Africa)",
          "shadow_full vs shadow_dge (North Africa)", "shadow_full vs shadow_mimic (North Africa)"]
xlabels = ["shadow dge", "shadow mimic", "shadow dge", "shadow mimic"]
ylabel = "shadow full"
MONO = "<span style='font-family:DejaVu Sans Mono;font-size:16px'>shadow_full</span>"
captions = ["(a) " + MONO + " vs. DGE, all Africa", "(b) " + MONO + " vs. MIMIC, all Africa",
            "(c) North Africa", "(d) North Africa"]

panels = [
    dict(pts=a_arc + a_right + a_upper + a_strands + a_tail + a_cloud + a_dense, diag=a_diag,
         xr=[17.04, 66.86], yr=[17.19, 66.85], xt=[20, 30, 40, 50, 60], yt=[20, 30, 40, 50, 60],
         box=(58, 581, 26, 432)),
    dict(pts=b_top + b_upper + b_tail + b_low + b_cloud + b_dense, diag=b_diag,
         xr=[18.72, 66.72], yr=[18.7, 66.75], xt=[20, 30, 40, 50, 60], yt=[20, 30, 40, 50, 60],
         box=(706, 1230, 26, 432)),
    dict(pts=c_upper + c_top + c_low, diag=c_diag,
         xr=[27.11, 39.24], yr=[27.13, 39.25], xt=[28, 30, 32, 34, 36, 38], yt=[28, 30, 32, 34, 36, 38],
         box=(58, 581, 583, 989)),
    dict(pts=d_low + d_mid + d_top, diag=d_diag,
         xr=[30.61, 39.16], yr=[30.71, 39.08], xt=list(range(31, 40)), yt=list(range(31, 40)),
         box=(706, 1230, 583, 989)),
]

fig = go.Figure()
ann = []
TICKFONT = dict(family="DejaVu Sans", size=13.9, color="black")
for i, p in enumerate(panels):
    s = "" if i == 0 else str(i + 1)
    l, r, t, b = p["box"]
    fig.add_trace(go.Scatter(
        x=[q[0] for q in p["pts"]], y=[q[1] for q in p["pts"]], mode="markers",
        marker=dict(size=7.4, color=FILL, line=dict(width=1.3, color=FILL)),
        xaxis="x" + s, yaxis="y" + s, showlegend=False, hoverinfo="skip"))
    fig.add_trace(go.Scatter(
        x=p["diag"], y=p["diag"], mode="lines",
        line=dict(color=BLUE, width=2, dash="7px,3.5px"),
        xaxis="x" + s, yaxis="y" + s, showlegend=False, hoverinfo="skip"))
    common = dict(showline=True, mirror=True, linecolor="black", linewidth=1.1, ticks="outside",
                  ticklen=5, tickwidth=1.1, tickcolor="black", showgrid=False, zeroline=False,
                  tickfont=TICKFONT, tickmode="array")
    fig.layout["xaxis" + s] = dict(domain=[l / W, r / W], range=p["xr"], tickvals=p["xt"],
                                   anchor="y" + s, **common)
    fig.layout["yaxis" + s] = dict(domain=[1 - b / H, 1 - t / H], range=p["yr"], tickvals=p["yt"],
                                   anchor="x" + s, **common)
    cx = (l + r) / 2
    ann.append(dict(text=titles[i], x=cx / W, y=1 - (t - 13) / H, xref="paper", yref="paper",
                    xanchor="center", yanchor="middle", showarrow=False,
                    font=dict(family="DejaVu Sans", size=16.7, color="black")))
    ann.append(dict(text=xlabels[i], x=cx / W, y=1 - (b + 36) / H, xref="paper", yref="paper",
                    xanchor="center", yanchor="middle", showarrow=False,
                    font=dict(family="DejaVu Sans", size=13.9, color="black")))
    ann.append(dict(text=ylabel, x=(l - 40) / W, y=1 - ((t + b) / 2) / H, xref="paper", yref="paper",
                    xanchor="center", yanchor="middle", showarrow=False, textangle=-90,
                    font=dict(family="DejaVu Sans", size=13.9, color="black")))
    capx = 294.5 if i % 2 == 0 else 944
    ann.append(dict(text=captions[i], x=capx / W, y=1 - (b + 84) / H, xref="paper", yref="paper",
                    xanchor="center", yanchor="middle", showarrow=False,
                    font=dict(family="Liberation Serif", size=20, color="black")))

fig.update_layout(width=W, height=H, margin=dict(l=0, r=0, t=0, b=0), plot_bgcolor="white",
                  paper_bgcolor="white", showlegend=False, annotations=ann,
                  font=dict(family="DejaVu Sans", color="black"))
fig.write_html("out.html", config={"displayModeBar": False},
               post_script="document.body.style.margin='0px';")
